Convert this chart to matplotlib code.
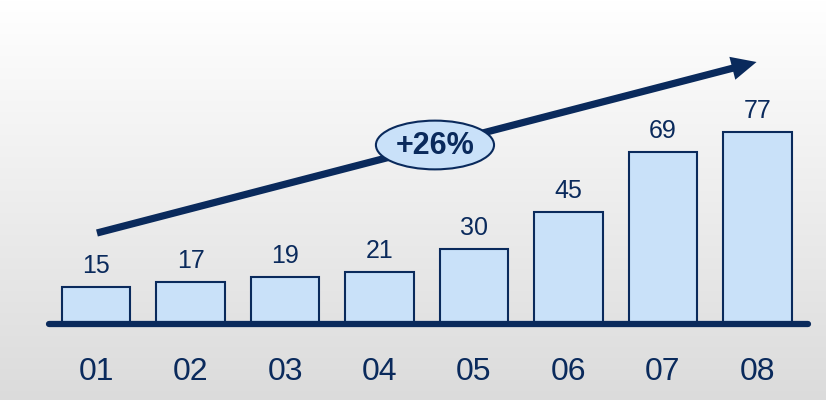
import matplotlib
matplotlib.use("Agg")
import matplotlib.pyplot as plt
import numpy as np
from matplotlib.patches import Ellipse, FancyArrowPatch

categories = ["01", "02", "03", "04", "05", "06", "07", "08"]
values = [15, 17, 19, 21, 30, 45, 69, 77]
growth_label = "+26%"

NAVY = "#0A2A5C"
FILL = "#C9E1F9"
plt.rcParams['font.family'] = ['Liberation Sans', 'DejaVu Sans']

fig = plt.figure(figsize=(8.26, 4.0), dpi=100)
bg = fig.add_axes([0, 0, 1, 1])
grad = np.linspace(1.0, 0.86, 256).reshape(-1, 1)
bg.imshow(np.dstack([grad, grad, grad]), aspect='auto', extent=[0, 1, 0, 1])
bg.axis('off')

ax = fig.add_axes([0, 0, 1, 1])
ax.patch.set_alpha(0)
ax.axis('off')
ax.set_xlim(-1.016, 7.725)
ax.set_ylim(-30.4, 129.6)

x = np.arange(len(values))
ax.bar(x, values, width=0.72, color=FILL, edgecolor=NAVY, linewidth=1.5, zorder=2)
ax.plot([-0.5, 7.53], [0, 0], color=NAVY, lw=4.5, solid_capstyle='round', zorder=3)

for xi, v in zip(x, values):
    ax.text(xi, v + 3.5, str(v), ha='center', va='bottom', fontsize=18, color=NAVY)
for xi, c in zip(x, categories):
    ax.text(xi, -19.3, c, ha='center', va='center', fontsize=23, color=NAVY)

# growth arrow
x0, y0 = 0.01, 36.4
x1, y1 = 6.99, 104.8
arr = FancyArrowPatch((x0, y0), (x1, y1),
                      arrowstyle="simple,head_length=18,head_width=17,tail_width=5.2",
                      mutation_scale=1, color=NAVY, lw=0, shrinkA=0, shrinkB=0, zorder=4)
ax.add_patch(arr)

ell = Ellipse((3.587, 71.6), 1.25, 19.5, facecolor=FILL, edgecolor=NAVY, lw=1.5, zorder=5)
ax.add_patch(ell)
ax.text(3.587, 71.3, growth_label, ha='center', va='center', fontsize=22,
        fontweight='bold', color=NAVY, zorder=6)

fig.savefig("out.png", dpi=100)
